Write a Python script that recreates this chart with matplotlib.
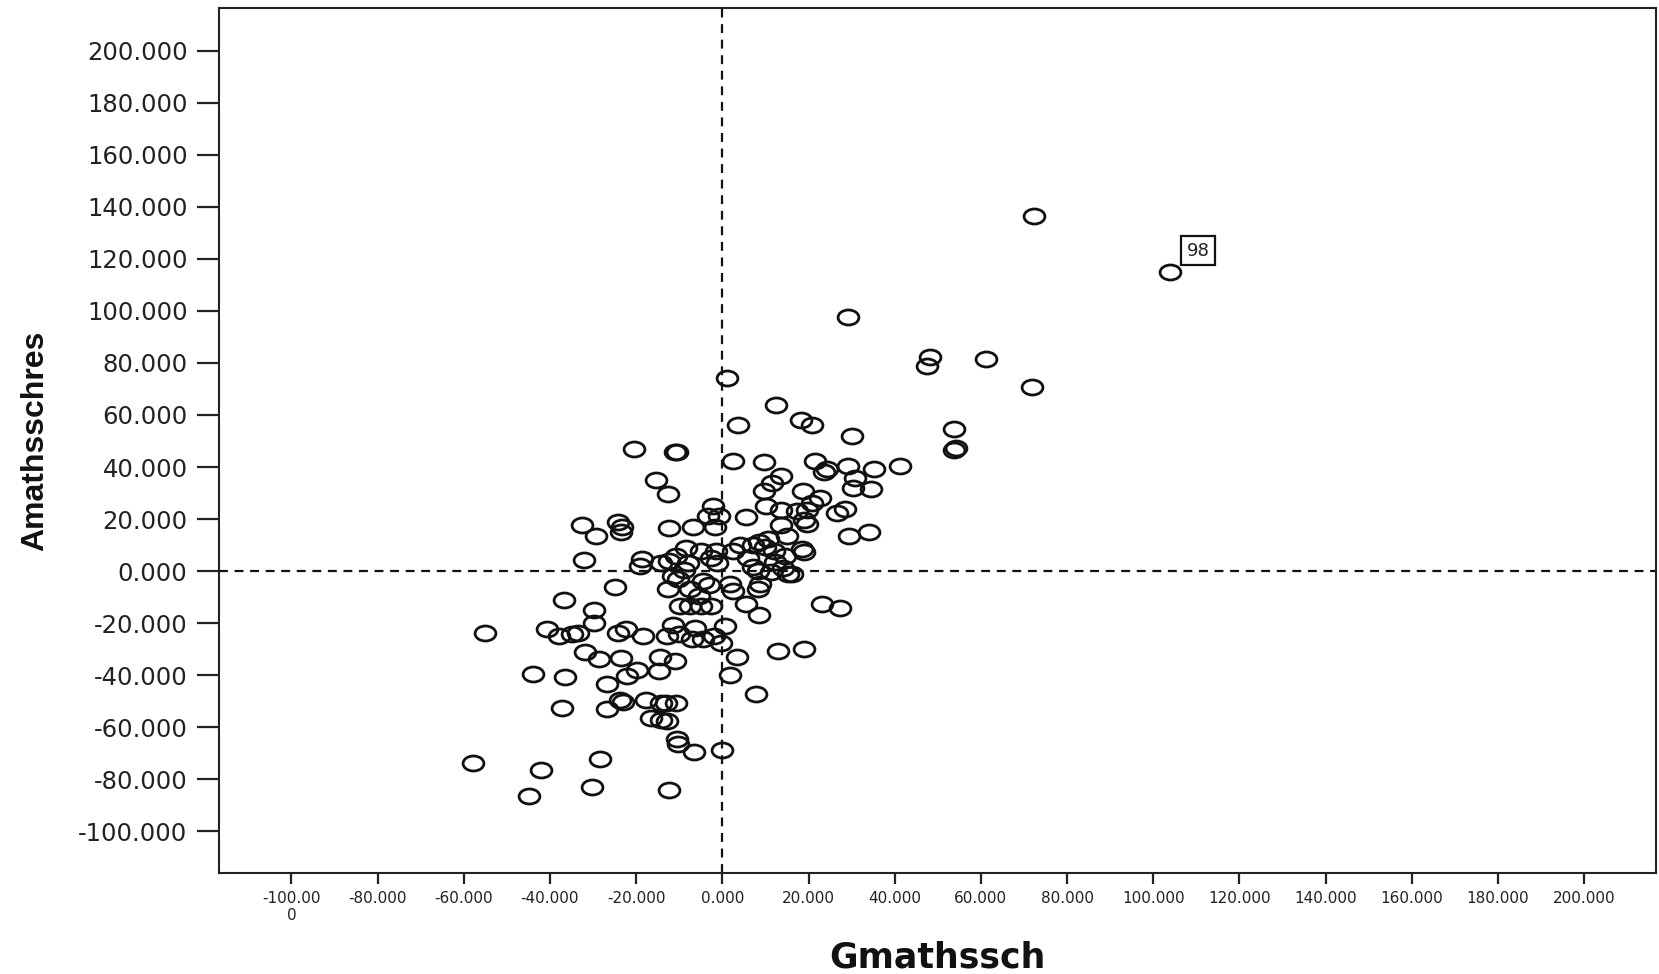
import matplotlib
matplotlib.use("Agg")
import matplotlib.pyplot as plt
from matplotlib.path import Path
from matplotlib.transforms import Affine2D
import numpy as np

# school-level residuals: general maths (x) vs adjusted maths (y)
gmathssch = [
    72.4, 104.0, 29.2, 48.3, 47.4, 61.3, 71.9, 1.0, 12.5, 3.7,
    18.2, 20.9, 30.2, 53.7, 54.2, 53.7, 41.2, 35.3, -20.6, -11.0,
    -10.6, 2.5, 9.6, 21.6, 23.6, 24.3, 29.2, 13.7, 11.5, -15.5,
    -12.5, 9.6, 18.7, 22.6, 20.9, 30.4, 34.4, 30.7, -2.2, -0.7,
    -3.4, 10.1, 13.5, 17.4, 19.6, 26.5, 28.5, 5.6, -32.6, -24.3,
    -23.3, -12.3, -6.9, -1.7, 18.9, 19.6, 13.5, -23.6, -29.4, 34.1,
    29.4, 15.0, -32.1, -18.7, -19.1, -4.9, -1.5, 2.5, 7.1, 8.6,
    9.8, 12.0, 14.5, 18.4, 18.9, -14.2, -12.3, -10.8, -7.9, -2.7,
    -1.2, 5.9, 7.1, 8.3, 11.3, 15.2, 16.2, 12.3, -11.5, -10.3,
    -12.5, -7.6, -4.4, -3.2, 1.7, 2.5, 8.8, 8.3, -25.0, -36.8,
    -29.7, -9.8, -7.4, -4.9, -2.7, 23.1, 27.2, 8.6, -29.7, -55.0,
    -40.7, -38.0, -34.8, -33.6, -24.3, -22.3, -18.4, -11.5, -12.8, -10.1,
    -7.1, -6.4, -4.4, -2.0, 0.7, -0.2, -31.9, -28.7, -23.6, -14.5,
    -11.0, 3.4, 13.0, 18.9, -43.9, -36.6, -22.1, -19.9, -14.7, 1.7,
    -26.7, -37.1, -26.7, -23.8, -23.1, -17.7, -14.2, -13.0, -10.8, -16.6,
    -14.2, -12.8, 7.9, -10.6, -10.3, -6.6, 0.0, -57.9, -28.5, -42.0,
    -30.2, -12.3, -44.9, 5.6, -9.0, -5.5, 4.0, 10.5, 14.0, -8.5,
]
amathsschres = [
    136.7, 115.1, 97.6, 82.4, 78.8, 81.6, 70.6, 74.3, 63.7, 56.3,
    58.0, 56.3, 51.8, 54.7, 47.3, 46.5, 40.4, 39.2, 46.9, 45.7,
    45.7, 42.4, 42.0, 42.4, 38.0, 39.2, 40.4, 36.7, 33.9, 35.1,
    29.8, 30.6, 30.6, 28.2, 26.1, 31.8, 31.4, 35.9, 24.9, 21.2,
    21.2, 24.9, 23.3, 22.9, 23.3, 22.4, 23.7, 20.8, 17.6, 18.8,
    17.1, 16.7, 17.1, 17.1, 19.6, 18.0, 17.6, 15.1, 13.5, 15.1,
    13.5, 13.5, 4.1, 4.5, 2.0, 7.8, 7.8, 7.8, 10.2, 11.0,
    9.4, 7.8, 5.7, 8.6, 7.3, 2.9, 3.7, 5.7, 2.9, 4.9,
    2.9, 4.9, 1.6, 0.0, -0.4, -1.2, -1.2, 3.3, -2.0, -2.9,
    -6.9, -6.9, -3.7, -5.3, -4.9, -7.8, -4.9, -6.9, -6.1, -11.0,
    -15.1, -13.5, -13.5, -13.5, -13.5, -12.7, -14.3, -17.1, -20.0, -23.7,
    -22.4, -24.9, -24.1, -23.7, -23.7, -22.4, -24.9, -20.8, -24.9, -24.1,
    -26.1, -22.0, -26.1, -24.9, -21.2, -27.8, -31.0, -33.9, -33.5, -33.1,
    -34.7, -33.1, -30.6, -29.8, -39.6, -40.8, -40.4, -38.0, -38.4, -40.0,
    -43.3, -52.7, -53.1, -49.4, -50.2, -49.4, -50.6, -50.6, -50.6, -56.7,
    -57.1, -57.6, -47.3, -64.5, -66.5, -69.4, -69.0, -73.9, -72.2, -76.7,
    -82.9, -84.1, -86.5, -12.7, 0.5, -9.5, 10.0, 12.5, 1.0, 9.0,
]
case_label = "98"
case_idx = 1

ticks = np.arange(-100, 201, 20)
ytick_labels = ["%.3f" % t for t in ticks]
xtick_labels = ["%.3f" % t for t in ticks]
xtick_labels[0] = "-100.00\n0"

fig = plt.figure(figsize=(16.59, 9.74), dpi=100)
ax = fig.add_axes([0.1323, 0.104, 0.8657, 0.8878])

# open ellipse marker, a bit wider than tall
ell = Path.unit_circle().transformed(Affine2D().scale(1.0, 0.72))
ax.plot(gmathssch, amathsschres, linestyle="none", marker=ell,
        markersize=15, markerfacecolor="none", markeredgecolor="#111111",
        markeredgewidth=2.0, zorder=3)

ax.axvline(0, color="#111111", lw=1.6, ls=(0, (4, 3)), zorder=2)
ax.axhline(0, color="#111111", lw=1.6, ls=(0, (4, 3)), zorder=2)

ax.annotate(case_label, (gmathssch[case_idx], amathsschres[case_idx]),
            textcoords="offset pixels", xytext=(16, 12), ha="left",
            va="bottom", fontsize=13, color="#222222",
            bbox=dict(boxstyle="square,pad=0.3", fc="white", ec="#111111", lw=1.6))

ax.set_xlim(-116.7, 216.6)
ax.set_ylim(-116.0, 216.5)
ax.set_xticks(ticks)
ax.set_xticklabels(xtick_labels, fontsize=11, color="#222222")
ax.set_yticks(ticks)
ax.set_yticklabels(ytick_labels, fontsize=17.5, color="#222222")
ax.tick_params(axis="y", length=16, width=1.6, pad=7, color="#222222")
ax.tick_params(axis="x", length=8, width=1.6, pad=5, color="#222222")

for sp in ax.spines.values():
    sp.set_linewidth(1.5)
    sp.set_color("#222222")

ax.set_xlabel("Gmathssch", fontsize=25, fontweight="bold", color="#111111")
ax.xaxis.set_label_coords(0.5, -0.078)
ax.set_ylabel("Amathsschres", fontsize=23, fontweight="bold", color="#111111",
              family=["Liberation Sans", "DejaVu Sans"])
ax.yaxis.set_label_coords(-0.118, 0.5)

fig.savefig("out.png", dpi=100)
